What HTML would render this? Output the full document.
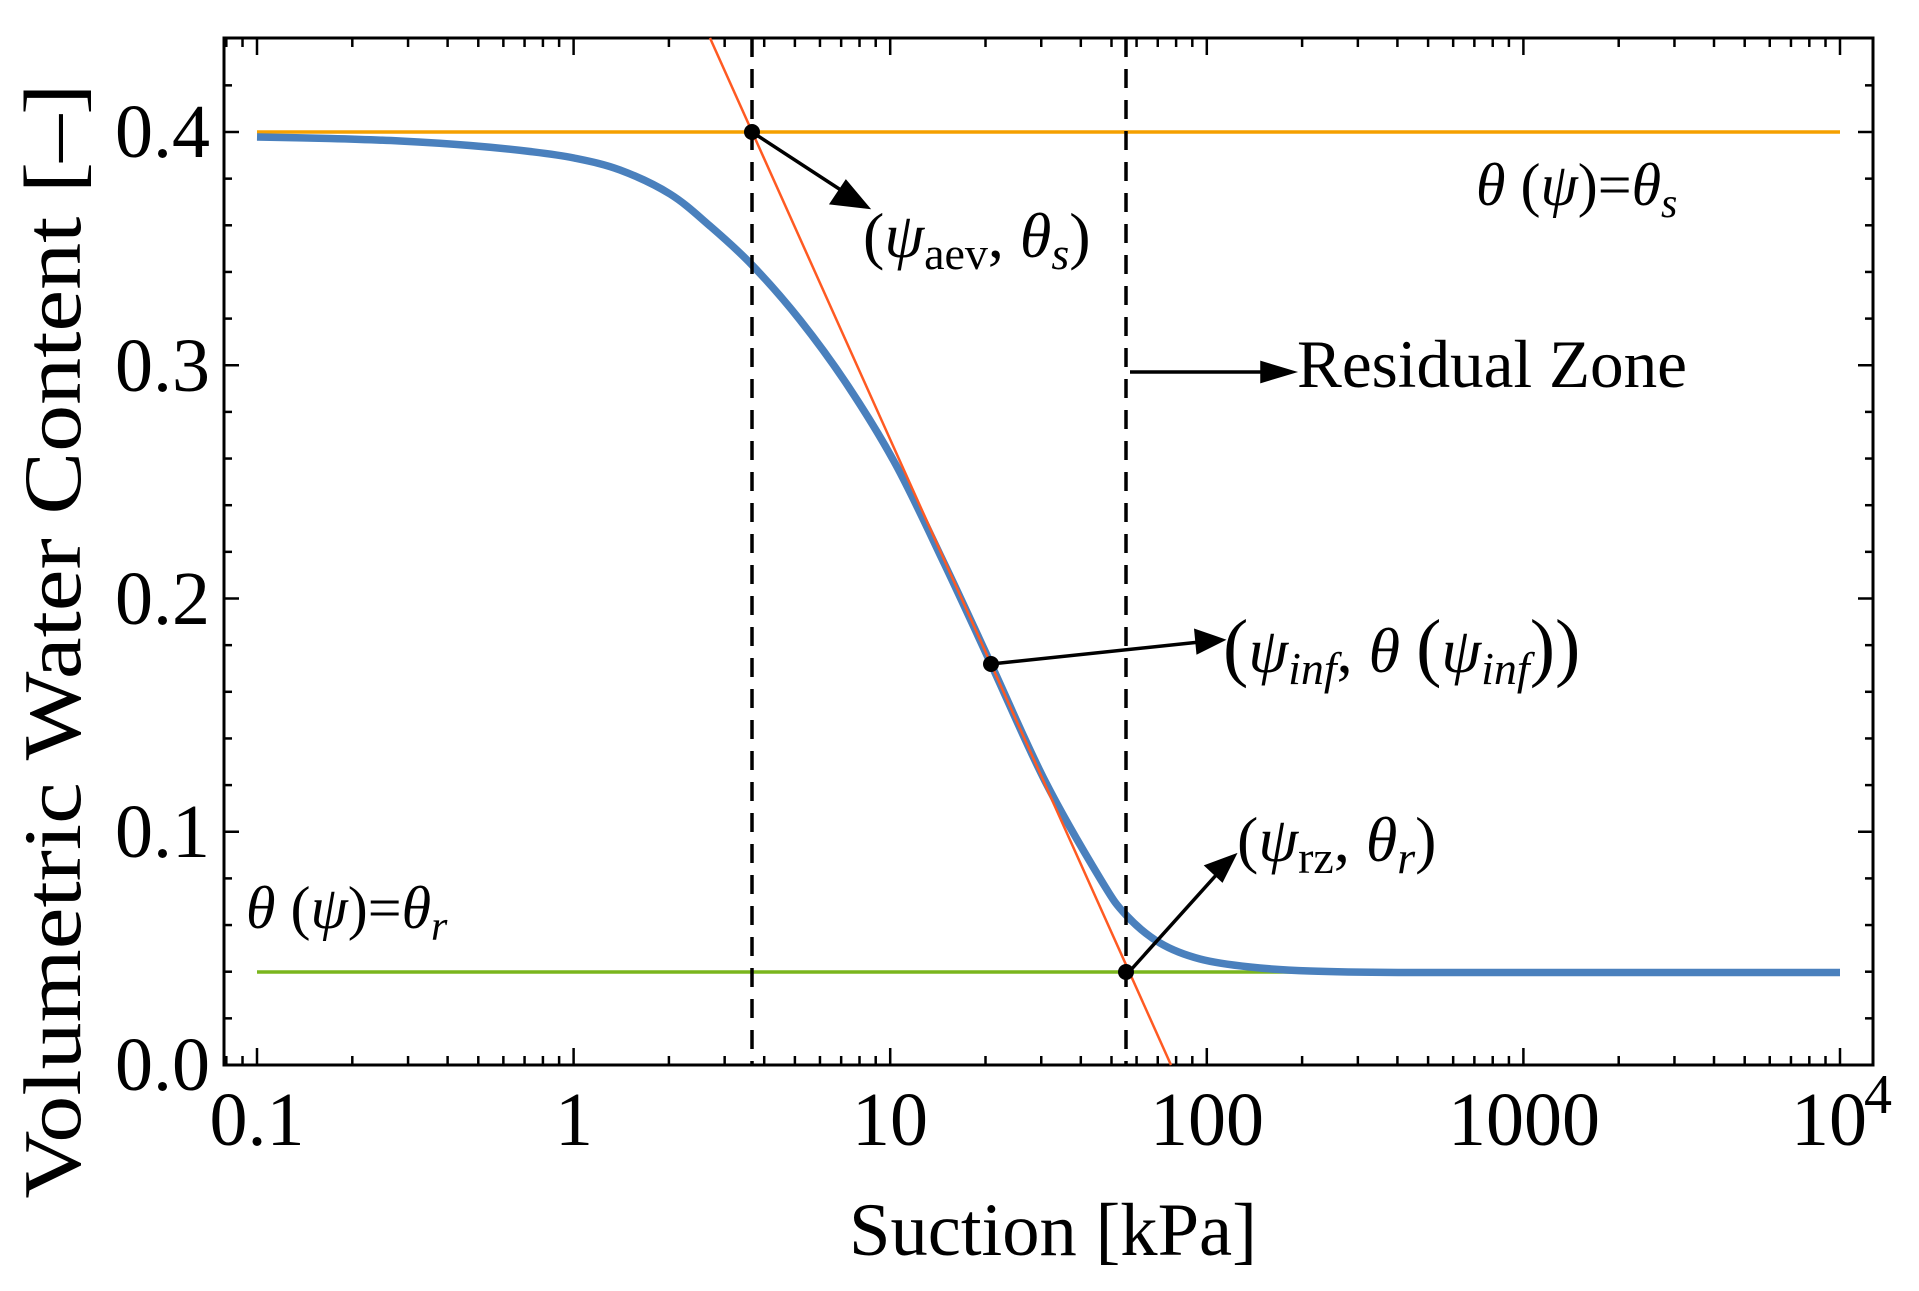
<!DOCTYPE html>
<html><head><meta charset="utf-8"><style>
html,body{margin:0;padding:0;background:#fff;}
svg{display:block;font-family:"Liberation Serif",serif;}
</style></head><body>
<svg id="s" width="1919" height="1291" viewBox="0 0 1919 1291" xmlns="http://www.w3.org/2000/svg">
<g id="ticks" stroke="#000" stroke-width="2.5"></g>
<rect x="224" y="38" width="1649" height="1027" fill="none" stroke="#000" stroke-width="3"/>
<line x1="257" y1="132" x2="1840" y2="132" stroke="#f5a000" stroke-width="3.5"/>
<line x1="257" y1="972" x2="1840" y2="972" stroke="#7ab51d" stroke-width="3.5"/>
<path id="curve" fill="none" stroke="#4a80bd" stroke-width="7.5" stroke-linecap="butt" stroke-linejoin="round"/>
<line x1="710" y1="38" x2="1171" y2="1065" stroke="#ff5a22" stroke-width="2.5"/>
<line x1="752" y1="38" x2="752" y2="1065" stroke="#000" stroke-width="3.5" stroke-dasharray="19,12"/>
<line x1="1126" y1="38" x2="1126" y2="1065" stroke="#000" stroke-width="3.5" stroke-dasharray="19,12"/>
<g stroke="#000" stroke-width="3.5" fill="#000">
<line x1="752" y1="132" x2="850" y2="196"/>
<polygon points="867,207 832,203 846,182"/>
<line x1="991" y1="664" x2="1200" y2="642"/>
<polygon points="1222,640 1196,631 1198,652" />
<line x1="1129" y1="972" x2="1218" y2="873"/>
<polygon points="1234,856 1207,866 1222,880"/>
<line x1="1130" y1="372" x2="1270" y2="372"/>
<polygon points="1292,372 1262,363 1262,381"/>
</g>
<g fill="#000">
<circle cx="752" cy="132" r="8"/>
<circle cx="991" cy="664" r="8"/>
<circle cx="1126" cy="972" r="8"/>
</g>
<g font-size="76" fill="#000" text-anchor="end">
<text x="210" y="157">0.4</text>
<text x="210" y="391">0.3</text>
<text x="210" y="624">0.2</text>
<text x="210" y="857">0.1</text>
<text x="210" y="1090">0.0</text>
</g>
<g font-size="76" fill="#000" text-anchor="middle">
<text x="257" y="1145">0.1</text>
<text x="574" y="1145">1</text>
<text x="890" y="1145">10</text>
<text x="1207" y="1145">100</text>
<text x="1524" y="1145">1000</text>
<text x="1829" y="1145">10</text>
<text x="1878" y="1113" font-size="56">4</text>
</g>
<text x="1053" y="1255" font-size="75" text-anchor="middle" textLength="408" lengthAdjust="spacingAndGlyphs">Suction [kPa]</text>
<text transform="translate(80,641) rotate(-90)" font-size="82" text-anchor="middle" textLength="1115" lengthAdjust="spacingAndGlyphs">Volumetric Water Content [–]</text>
<g font-size="64" fill="#000">
<text x="1297" y="387" font-size="68" textLength="390" lengthAdjust="spacingAndGlyphs">Residual Zone</text>
<text x="863" y="257">(<tspan font-style="italic">ψ</tspan><tspan font-size="46" dy="12">aev</tspan><tspan dy="-12">, </tspan><tspan font-style="italic">θ</tspan><tspan font-size="46" font-style="italic" dy="12">s</tspan><tspan dy="-12">)</tspan></text>
<text x="1223" y="672"><tspan font-size="76">(</tspan><tspan font-style="italic">ψ</tspan><tspan font-size="46" font-style="italic" dy="12">inf</tspan><tspan dy="-12">, </tspan><tspan font-style="italic">θ</tspan> <tspan font-size="76">(</tspan><tspan font-style="italic">ψ</tspan><tspan font-size="46" font-style="italic" dy="12">inf</tspan><tspan dy="-12" font-size="76">))</tspan></text>
<text x="1237" y="861">(<tspan font-style="italic">ψ</tspan><tspan font-size="46" dy="12">rz</tspan><tspan dy="-12">, </tspan><tspan font-style="italic">θ</tspan><tspan font-size="46" font-style="italic" dy="12">r</tspan><tspan dy="-12">)</tspan></text>
<text x="1476" y="205" font-size="60"><tspan font-style="italic">θ</tspan> (<tspan font-style="italic">ψ</tspan>)=<tspan font-style="italic">θ</tspan><tspan font-size="42" font-style="italic" dy="12">s</tspan></text>
<text x="246" y="928" font-size="60"><tspan font-style="italic">θ</tspan> (<tspan font-style="italic">ψ</tspan>)=<tspan font-style="italic">θ</tspan><tspan font-size="42" font-style="italic" dy="12">r</tspan></text>
</g>
</svg>
<script>
(function(){
var NS="http://www.w3.org/2000/svg";
var g=document.getElementById('ticks');
function L(x1,y1,x2,y2){var l=document.createElementNS(NS,'line');l.setAttribute('x1',x1);l.setAttribute('y1',y1);l.setAttribute('x2',x2);l.setAttribute('y2',y2);g.appendChild(l);}
function X(v){return 257+316.6*(Math.log10(v)+1);}
for(var e=-2;e<=4;e++){for(var k=1;k<10;k++){var v=k*Math.pow(10,e);var x=X(v);if(x<226||x>1871)continue;var len=(k==1)?17:9;L(x,1065,x,1065-len);L(x,38,x,38+len);}}
for(var i=0;i<=22;i++){var t=i*0.02;var y=1065-2332.5*t;if(y<40)continue;var maj=(i%5==0);var len=maj?15:8;L(224,y,224+len,y);L(1873,y,1873-len,y);}
var P=[[257,137],[330,138.5],[400,141],[470,145.5],[530,151.5],[574,158],[620,170],[670,194],[710,226],[752,265],[800,320],[848,386],[896,465],[944,563],[991,664],[1045,781],[1101,880],[1126,915],[1160,943],[1200,959],[1250,967],[1310,971],[1400,972.5],[1600,972.5],[1840,972.5]];
var d="M"+P[0][0]+","+P[0][1];
for(var i=0;i<P.length-1;i++){var p0=P[Math.max(0,i-1)],p1=P[i],p2=P[i+1],p3=P[Math.min(P.length-1,i+2)];
var c1x=p1[0]+(p2[0]-p0[0])/6,c1y=p1[1]+(p2[1]-p0[1])/6,c2x=p2[0]-(p3[0]-p1[0])/6,c2y=p2[1]-(p3[1]-p1[1])/6;
d+=" C"+c1x+","+c1y+" "+c2x+","+c2y+" "+p2[0]+","+p2[1];}
document.getElementById('curve').setAttribute('d',d);
})();
</script>
</body></html>
